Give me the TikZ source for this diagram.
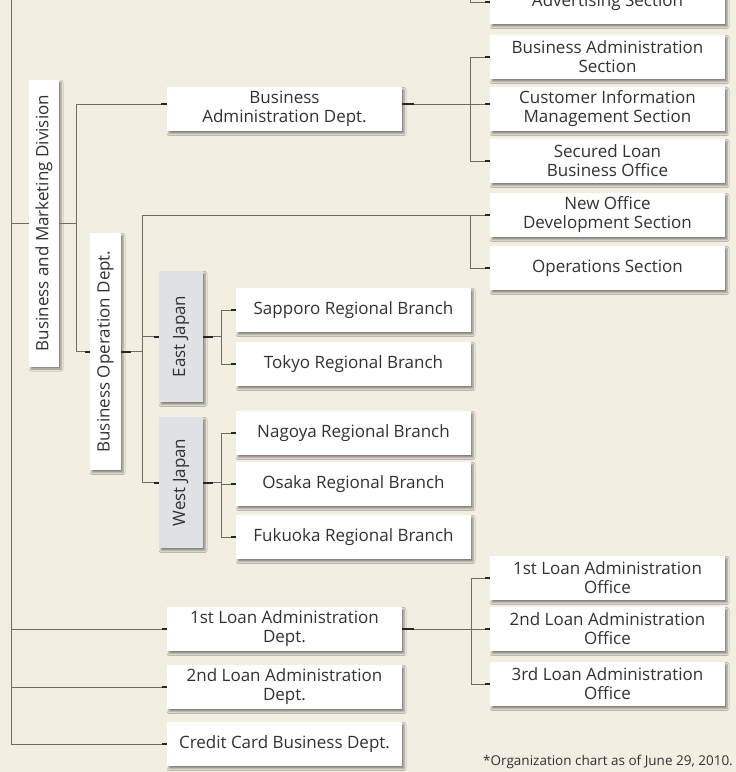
\documentclass[tikz,border=0pt]{standalone}
\usepackage{fontspec}
\setmainfont{Open Sans}
\usepackage{graphicx}
\usetikzlibrary{shadows.blur,calc}
\definecolor{paper}{RGB}{243,238,226}
\definecolor{region}{RGB}{222,226,228}
\definecolor{wire}{RGB}{112,107,100}
\definecolor{ink}{RGB}{50,50,50}
\begin{document}
\begin{tikzpicture}[x=1pt,y=-1pt,
  box/.style={fill=white, text=ink, align=center, inner sep=0pt,
    minimum width=235pt, minimum height=44pt,
    font=\fontsize{17}{19}\selectfont,
    blur shadow={shadow xshift=2pt, shadow yshift=-2.5pt,
      shadow blur radius=2pt, shadow opacity=45}},
  rbox/.style={box, fill=region, minimum width=44pt, minimum height=131pt},
  conn/.style={draw=wire, line width=0.9pt},
  stub/.style={draw=black!85, line width=2pt}]

% page
\fill[paper] (0,0) rectangle (736,772);
\useasboundingbox (0,0) rectangle (736,772);

% division and departments
\node[box, minimum width=30pt, minimum height=287pt] (bmd) at (44,223)
  {\rotatebox{90}{Business and Marketing Division}};
\node[box, minimum width=31pt, minimum height=237pt] (bod) at (105.5,351.5)
  {\rotatebox{90}{Business Operation Dept.}};
\node[box] (bad) at (284.5,109) {Business\\Administration Dept.};
\node[box] (l1d) at (284.5,629) {1st Loan Administration\\Dept.};
\node[box] (l2d) at (284.5,687) {2nd Loan Administration\\Dept.};
\node[box] (ccd) at (284.5,744) {Credit Card Business Dept.};

% regions
\node[rbox] (ej) at (181,336.5) {\rotatebox{90}{East Japan}};
\node[rbox] (wj) at (181,482.5) {\rotatebox{90}{West Japan}};

% regional branches
\node[box] (sap) at (353.5,310) {Sapporo Regional Branch};
\node[box] (tok) at (353.5,364) {Tokyo Regional Branch};
\node[box] (nag) at (353.5,433) {Nagoya Regional Branch};
\node[box] (osa) at (353.5,484) {Osaka Regional Branch};
\node[box] (fuk) at (353.5,537) {Fukuoka Regional Branch};

% sections
\node[box] (adv) at (607.5,2) {Advertising Section};
\node[box] (bas) at (607.5,57) {Business Administration\\Section};
\node[box] (cim) at (607.5,109) {Customer Information\\Management Section};
\node[box] (slb) at (607.5,161) {Secured Loan\\Business Office};
\node[box] (nod) at (607.5,215) {New Office\\Development Section};
\node[box] (ops) at (607.5,268) {Operations Section};

% loan offices
\node[box] (lo1) at (607.5,578) {1st Loan Administration\\Office};
\node[box] (lo2) at (607.5,629) {2nd Loan Administration\\Office};
\node[box] (lo3) at (607.5,684) {3rd Loan Administration\\Office};

\node[anchor=east, text=ink, inner sep=0pt, font=\fontsize{13.5}{15}\selectfont]
  (note) at (733,762) {*Organization chart as of June 29, 2010.};

% bus lines
\coordinate (T) at (11,0);
\coordinate (A) at (76,0);
\coordinate (B) at (142,0);
\coordinate (C) at (221,0);
\coordinate (R) at (470,0);
\coordinate (Q) at (471,0);
\coordinate (badL) at ([yshift=5pt]bad.west);
\coordinate (badR) at ([yshift=5pt]bad.east);
\coordinate (cimL) at ([yshift=5pt]cim.west);

% main trunk
\draw[conn] (T) |- (ccd.west);
\foreach \n in {bmd,l1d,l2d} \draw[conn] (T |- \n.west) -- (\n.west);

% business and marketing division
\draw[conn] (bmd.east) -- (A |- bmd.east);
\draw[conn] (badL) -| (A |- bod.west) -- (bod.west);

% business administration dept.
\draw[conn] (badR) -- (cimL);
\draw[conn] (R |- bas.west) -- (R |- slb.west);
\foreach \n in {bas,slb} \draw[conn] (R |- \n.west) -- (\n.west);
\draw[conn] (R) |- (adv.west);

% business operation dept.
\draw[conn] (bod.east) -- (B |- bod.east);
\draw[conn] (B |- nod.west) -- (B |- wj.west) -- (wj.west);
\draw[conn] (B |- nod.west) -- (nod.west);
\draw[conn] (R |- nod.west) |- (ops.west);
\draw[conn] (B |- ej.west) -- (ej.west);

% regions to branches
\draw[conn] (ej.east) -- (C |- ej.east);
\draw[conn] (C |- sap.west) -- (C |- tok.west);
\foreach \n in {sap,tok} \draw[conn] (C |- \n.west) -- (\n.west);
\draw[conn] (wj.east) -- (C |- wj.east);
\draw[conn] (C |- nag.west) -- (C |- fuk.west);
\foreach \n in {nag,osa,fuk} \draw[conn] (C |- \n.west) -- (\n.west);

% 1st loan administration dept.
\draw[conn] (l1d.east) -- (Q |- l1d.east);
\draw[conn] (Q |- lo1.west) -- (Q |- lo3.west);
\foreach \n in {lo1,lo2,lo3} \draw[conn] (Q |- \n.west) -- (\n.west);

% short heavy ends at the boxes
\foreach \n in {bod,ej,wj,sap,tok,nag,osa,fuk,l1d,l2d,ccd,adv,bas,slb,nod,ops,lo1,lo2,lo3}
  \draw[stub] (\n.west) -- ++(-5pt,0);
\draw[stub] (badL) -- ++(-6pt,0);
\draw[stub] (cimL) -- ++(-5pt,0);
\draw[stub] (badR) -- ++(12pt,0);
\draw[stub] (l1d.east) -- ++(12pt,0);
\foreach \n in {bod,ej,wj} \draw[stub] (\n.east) -- ++(10pt,0);
\end{tikzpicture}
\end{document}
